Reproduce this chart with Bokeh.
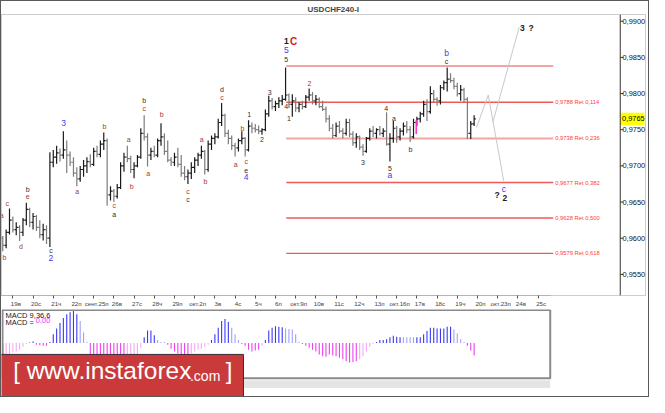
import numpy as np
from bokeh.plotting import figure
from bokeh.layouts import column
from bokeh.models import (ColumnDataSource, Range1d, FixedTicker, CustomJSTickFormatter, Span)
from bokeh.core.properties import value
from bokeh.embed import file_html
from bokeh.resources import INLINE

# USDCHF H4 bars (19 Sep - 19 Oct)
opens = [.9600, .9590, .9608, .9625, .9612, .9615, .9608, .9625, .9640, .9622,
         .9630, .9615, .9605, .9612, .9600, .9705, .9712, .9718, .9715, .9722,
         .9715, .9705, .9690, .9682, .9695, .9700, .9706, .9702, .9720, .9716,
         .9730, .9735, .9660, .9665, .9658, .9670, .9700, .9712, .9710, .9695,
         .9700, .9712, .9745, .9740, .9715, .9720, .9715, .9735, .9740, .9720,
         .9708, .9705, .9712, .9702, .9690, .9685, .9690, .9698, .9708, .9715,
         .9720, .9695, .9730, .9738, .9740, .9760, .9770, .9745, .9738, .9728,
         .9725, .9735, .9738, .9722, .9755, .9752, .9750, .9748, .9750, .9772,
         .9790, .9782, .9786, .9790, .9792, .9798, .9785, .9790, .9780, .9785,
         .9782, .9795, .9798, .9790, .9792, .9782, .9778, .9765, .9752, .9742,
         .9755, .9748, .9745, .9760, .9744, .9732, .9740, .9726, .9720, .9738,
         .9748, .9745, .9750, .9745, .9748, .9730, .9738, .9752, .9740, .9748,
         .9755, .9750, .9740, .9760, .9765, .9772, .9785, .9775, .9800, .9792,
         .9790, .9808, .9815, .9820, .9818, .9810, .9800, .9805, .9792, .9745,
         .9758]
highs = [.9603, .9612, .9641, .9630, .9622, .9618, .9628, .9649, .9642, .9635,
         .9632, .9625, .9620, .9618, .9719, .9722, .9728, .9724, .9748, .9735,
         .9720, .9712, .9698, .9700, .9708, .9712, .9716, .9725, .9728, .9735,
         .9746, .9738, .9672, .9668, .9675, .9705, .9718, .9728, .9714, .9705,
         .9715, .9752, .9770, .9745, .9725, .9728, .9738, .9759, .9745, .9735,
         .9712, .9718, .9725, .9715, .9700, .9695, .9705, .9712, .9718, .9728,
         .9722, .9735, .9742, .9745, .9765, .9787, .9772, .9750, .9742, .9732,
         .9738, .9748, .9740, .9763, .9760, .9758, .9756, .9752, .9778, .9797,
         .9794, .9790, .9795, .9798, .9836, .9800, .9799, .9795, .9788, .9790,
         .9798, .9807, .9802, .9798, .9795, .9790, .9782, .9770, .9758, .9760,
         .9762, .9752, .9765, .9765, .9748, .9745, .9742, .9730, .9740, .9752,
         .9755, .9752, .9755, .9752, .9774, .9745, .9762, .9755, .9752, .9760,
         .9762, .9755, .9765, .9768, .9775, .9790, .9792, .9810, .9805, .9795,
         .9812, .9818, .9836, .9828, .9822, .9815, .9812, .9808, .9795, .9762,
         .9770]
lows = [.9582, .9586, .9605, .9608, .9604, .9596, .9603, .9618, .9615, .9612,
        .9610, .9600, .9597, .9592, .9588, .9698, .9703, .9706, .9710, .9690,
        .9700, .9685, .9672, .9678, .9685, .9690, .9698, .9700, .9712, .9712,
        .9722, .9645, .9652, .9650, .9655, .9668, .9692, .9705, .9690, .9683,
        .9698, .9710, .9735, .9699, .9708, .9712, .9712, .9728, .9715, .9705,
        .9700, .9700, .9698, .9685, .9680, .9675, .9682, .9690, .9700, .9710,
        .9688, .9692, .9722, .9730, .9738, .9755, .9740, .9730, .9722, .9713,
        .9720, .9730, .9713, .9720, .9745, .9746, .9744, .9743, .9748, .9768,
        .9778, .9776, .9780, .9784, .9790, .9780, .9768, .9775, .9774, .9778,
        .9780, .9790, .9785, .9784, .9780, .9776, .9760, .9748, .9738, .9740,
        .9745, .9738, .9742, .9740, .9728, .9725, .9722, .9714, .9718, .9735,
        .9740, .9738, .9742, .9740, .9728, .9706, .9732, .9732, .9735, .9742,
        .9745, .9733, .9738, .9755, .9760, .9768, .9762, .9772, .9788, .9783,
        .9785, .9805, .9803, .9815, .9806, .9796, .9790, .9788, .9737, .9737,
        .9755]
closes = [.9590, .9608, .9625, .9612, .9615, .9608, .9625, .9640, .9622, .9630,
          .9615, .9605, .9612, .9600, .9705, .9712, .9718, .9715, .9722, .9715,
          .9705, .9690, .9682, .9695, .9700, .9706, .9702, .9720, .9716, .9730,
          .9735, .9660, .9665, .9658, .9670, .9700, .9712, .9710, .9695, .9700,
          .9712, .9745, .9740, .9715, .9720, .9715, .9735, .9740, .9720, .9708,
          .9705, .9712, .9702, .9690, .9685, .9690, .9698, .9708, .9715, .9720,
          .9695, .9730, .9738, .9740, .9760, .9770, .9745, .9738, .9728, .9725,
          .9735, .9738, .9722, .9755, .9752, .9750, .9748, .9750, .9772, .9790,
          .9782, .9786, .9790, .9792, .9798, .9785, .9790, .9780, .9785, .9782,
          .9795, .9798, .9790, .9792, .9782, .9778, .9765, .9752, .9742, .9755,
          .9748, .9745, .9760, .9744, .9732, .9740, .9726, .9720, .9738, .9748,
          .9745, .9750, .9745, .9748, .9730, .9738, .9752, .9740, .9748, .9755,
          .9750, .9740, .9760, .9765, .9772, .9785, .9775, .9800, .9792, .9790,
          .9808, .9815, .9820, .9818, .9810, .9800, .9805, .9792, .9745, .9758,
          .9765]

# MACD(9,36,6) histogram, in pips
macd_pips = [-14, -13, -12, -10, -9, -7, -4, -1, 0.5, 1.5,
             -2, -2.5, -3, -3, 1, 9, 15, 21, 26, 30,
             32, 34, 30, 23, 11, 1, -12, -14, -15, -16,
             -16, -18, -22, -26, -28, -27, -25, -22, -20, -16,
             -12, -5, 6, 13, 13, 8, 3, 1, 1, -2,
             -6, -9, -11, -12, -12, -12, -11, -9, -7, -6,
             -4, -2, 3, 9, 16, 23, 25, 22, 16, 9,
             3, -1, -3, -7, -9, -8, -7, -3, 3, 13,
             16, 17.5, 17, 16.5, 15, 14.5, 14, 9, 1, -1,
             -3, -5, -7, -9, -12, -14, -14.5, -12, -13, -14,
             -15.5, -17, -19, -20.5, -20, -19, -17, -14, -9, -4,
             -1, 1, 3, 3, 4, 6, 7.5, 6.6, 6, 6,
             6, 6, 6, 6, 6, 9, 12.5, 16, 16, 15,
             15, 15, 17, 17, 14, 10, 4, 1, -3, -8,
             -13]

day_labels = ["19в", "20с", "21ч", "22п", "сент.25п", "26в", "27с", "28ч", "29п",
              "окт.2п", "3в", "4с", "5ч", "6п", "окт.9п", "10в", "11с", "12ч", "13п",
              "окт.16п", "17в", "18с", "19ч", "20п", "окт.23п", "24в", "25с"]

price_ticks = [0.955, 0.96, 0.965, 0.97, 0.975, 0.98, 0.985, 0.99]

# retracement levels of the last leg
fib_levels = [0.9838, 0.9788, 0.9738, 0.9677, 0.9628, 0.9579, 0.9518]
fib_ratios = ["", "0,114", "0,236", "0,382", "0,500", "0,618", "0,764"]

# forecast paths (bar index, price)
path_down_k = [140.7, 144.2, 148.8]
path_down_p = [0.9753, 0.9798, 0.9679]
path_up_k = [145.6, 153.4]
path_up_p = [0.9761, 0.9892]

# wave marks: bar index, price, text, kind (m maroon, k black, u blue, K bold, R red)
wave_k = [0.49, 1.36, -0.3, 5.4, 7.4, 7.4, 14.3, 14.3, 18.1, 22.1,
          30.2, 33.1, 33.1, 37.4, 38.3, 42.0, 42.0, 43.2, 47.2, 55.0,
          55.0, 59.1, 60.2, 65.1, 65.1, 69.2, 71.2, 72.3, 72.3, 72.3,
          73.2, 77.0, 79.3, 84.2, 86.4, 84.2, 84.2, 84.2, 85.0, 91.1,
          107.0, 113.9, 115.0, 115.0, 116.2, 121.1, 131.8, 131.8, 148.8, 146.8,
          149.1, 154.3, 156.9]
wave_p = [.9574, .9648, .9631, .9588, .9668, .9657, .9583, .9572, .9759, .9664,
          .9755, .9645, .9633, .9736, .9672, .9791, .9779, .9690, .9771, .9665,
          .9653, .9736, .9679, .9805, .9794, .9702, .9751, .9706, .9694, .9684,
          .9771, .9736, .9802, .9872, .9872, .9860, .9847, .9782, .9765, .9814,
          .9704, .9779, .9697, .9687, .9766, .9722, .9856, .9844, .9668, .9660,
          .9656, .9891, .9891]
wave_text = ["b", "c", "a", "d", "b", "e", "c", "2", "3", "a",
             "b", "c", "a", "a", "b", "b", "c", "a", "b", "c",
             "c", "a", "b", "d", "c", "a", "b", "c", "e", "4",
             "1", "2", "3", "1", "C", "5", "5", "4", "1", "2",
             "3", "4", "5", "a", "a", "b", "b", "c", "c", "?",
             "2", "3", "?"]
wave_kind = ["m", "m", "m", "m", "k", "m", "k", "u", "u", "m",
             "m", "m", "k", "m", "m", "k", "m", "m", "m", "m",
             "k", "m", "m", "k", "m", "m", "m", "m", "k", "u",
             "k", "k", "k", "K", "R", "u", "k", "k", "k", "m",
             "k", "k", "k", "u", "k", "k", "u", "k", "u", "K",
             "K", "K", "K"]

FONT = "Liberation Sans"
W = 647
x_start, x_end = -0.375, 190.9      # frame spans the whole width
k_axis = 183.4                      # where the price scale starts
panel_end = 162.6                   # end of date strip / MACD box
price_lo, price_hi = 0.95208, 0.99093

k = np.arange(len(closes))
o = np.array(opens); h = np.array(highs); l = np.array(lows); c = np.array(closes)

# ---- price chart ----
p = figure(width=W, height=308, x_range=Range1d(x_start, x_end),
           y_range=Range1d(price_lo, price_hi), y_axis_location="right",
           toolbar_location=None, output_backend="svg",
           min_border_left=0, min_border_right=0, min_border_top=13, min_border_bottom=0)
p.grid.visible = False
p.outline_line_color = "#9a9a9a"
p.outline_line_dash = "1 1"
p.title.text = "USDCHF240-I"
p.title.align = "left"
p.title.text_font = FONT
p.title.text_font_size = "8px"
p.title.text_font_style = "bold"
p.title.standoff = 1
p.title.offset = 306

# price scale: labels pulled back inside the frame, to the right of the scale line
ya = p.yaxis[0]
ya.ticker = FixedTicker(ticks=price_ticks)
ya.formatter = CustomJSTickFormatter(code="return tick.toFixed(4).replace('.', ',');")
ya.major_tick_out = 0
ya.major_tick_in = 0
ya.minor_tick_line_color = None
ya.major_tick_line_color = None
ya.axis_line_color = None
ya.major_label_standoff = -23
ya.major_label_text_font = FONT
ya.major_label_text_font_size = "7.4px"
ya.major_label_text_color = "#111111"
p.add_layout(Span(location=k_axis, dimension="height", line_color="#333333", line_width=1))
p.segment(x0=k_axis, y0=price_ticks, x1=k_axis + 0.9, y1=price_ticks, line_color="#333333")

xa = p.xaxis[0]
xa.ticker = FixedTicker(ticks=[3.9 + 6 * i for i in range(len(day_labels))],
                        minor_ticks=[3 + 6 * i for i in range(len(day_labels))])
xa.formatter = CustomJSTickFormatter(args=dict(labels=day_labels),
                                     code="const i = Math.round((tick - 3.9) / 6); return labels[i] || '';")
xa.major_label_text_align = "left"
xa.major_tick_out = 0
xa.major_tick_in = 0
xa.minor_tick_out = 3
xa.minor_tick_in = 0
xa.minor_tick_line_color = "#555555"
xa.axis_line_color = "#9a9a9a"
xa.axis_line_dash = "1 1"
xa.major_label_standoff = 1
xa.major_label_text_font = FONT
xa.major_label_text_font_size = "6.2px"
xa.bounds = (x_start, panel_end)

# fibonacci lines
fib_src = ColumnDataSource(dict(
    y=fib_levels,
    color=["#f4a4a4", "#ee5a5a", "#f4a4a4", "#ee5a5a", "#ee5a5a", "#ee5a5a", "#ee5a5a"],
    width=[2, 1.4, 2, 1.4, 1.4, 1.4, 1.4],
    label=[("%.4f Ret %s" % (v, r)).replace(".", ",") if r else "" for v, r in zip(fib_levels, fib_ratios)],
))
p.segment(x0=84.2, y0="y", x1=163.5, y1="y", line_color="color", line_width="width", source=fib_src)
p.text(x=164.1, y="y", text="label", text_color="#ff3a3a", text_font=value(FONT),
       text_font_size="5.8px", text_baseline="middle", source=fib_src)

# forecast paths
p.line(path_down_k, path_down_p, line_color="#c8c8c8", line_width=1)
p.line(path_up_k, path_up_p, line_color="#c8c8c8", line_width=1)

# bars
bar_src = ColumnDataSource(dict(x=k, xl=k - 0.5, xr=k + 0.5, o=o, h=h, l=l, c=c,
                                color=np.where(c >= o, "#1a1a1a", "#7c7c7c")))
p.segment("x", "l", "x", "h", line_color="color", line_width=1.2, source=bar_src)
p.segment("xl", "o", "x", "o", line_color="color", line_width=1.2, source=bar_src)
p.segment("x", "c", "xr", "c", line_color="color", line_width=1.2, source=bar_src)
p.segment(x0=[122.8], y0=[0.9744], x1=[122.8], y1=[0.9763], line_color="#ff30d0", line_width=1.5)

# wave marks
kind_color = {"m": "#a23a32", "k": "#303030", "u": "#3c3cf0", "K": "#202020", "R": "#d42020"}
kind_size = {"m": "7px", "k": "7px", "u": "8.5px", "K": "8.5px", "R": "10px"}
kind_style = {"m": "normal", "k": "normal", "u": "normal", "K": "bold", "R": "bold"}
wave_src = ColumnDataSource(dict(
    x=wave_k, y=wave_p, text=wave_text,
    color=[kind_color[t] for t in wave_kind],
    size=[kind_size[t] for t in wave_kind],
    style=[kind_style[t] for t in wave_kind],
))
p.text(x="x", y="y", text="text", text_color="color", text_font_size="size",
       text_font_style="style", text_font=value(FONT), text_align="center",
       text_baseline="middle", source=wave_src)

# current price box on the scale
last_txt = ("%.4f" % closes[-1]).replace(".", ",")
p.rect(x=(k_axis + x_end) / 2 - 0.2, y=closes[-1], width=x_end - k_axis - 0.2, height=0.0017,
       fill_color="#ffff00", line_color=None)
p.text(x=k_axis + 0.55, y=closes[-1], text=[last_txt], text_font=value(FONT),
       text_font_size="7.4px", text_baseline="middle", text_color="black")

# ---- MACD panel ----
m = figure(width=W, height=87, x_range=p.x_range, y_range=Range1d(-56, 35),
           toolbar_location=None, output_backend="svg",
           x_axis_location=None, y_axis_location=None,
           min_border_left=0, min_border_right=0, min_border_top=0, min_border_bottom=0)
m.grid.visible = False
m.outline_line_color = None

mp = np.array(macd_pips, dtype=float)
sig = np.array([mp[max(0, i - 5):i + 1].mean() for i in range(len(mp))])
mcol = np.where(mp >= 0, np.where(mp >= sig, "#3a3af5", "#a0a0f8"),
                np.where(mp <= sig, "#f040f0", "#f8a8f8"))
m.segment(x0=k, y0=0, x1=k, y1=mp, line_color=mcol, line_width=1.1)

m.quad(left=x_start + 0.3, right=panel_end, top=34.4, bottom=-37, fill_color=None,
       line_color="#8a8a8a", line_width=2)
m.quad(left=x_start, right=panel_end, top=-39, bottom=-47, fill_color="#e4e4e4", line_color=None)

m.text(x=0.8, y=33.5, text=["MACD 9,36,6"], text_font=value(FONT), text_font_size="7.5px",
       text_baseline="top", text_color="#202020")
m.text(x=0.8, y=26, text=["MACD ="], text_font=value(FONT), text_font_size="7.5px",
       text_baseline="top", text_color="#202020")
m.text(x=9.8, y=26, text=["0,00"], text_font=value(FONT), text_font_size="7.5px",
       text_baseline="top", text_color="#ff30ff")

# banner
m.quad(left=x_start - 1, right=71.5, top=-12, bottom=-57, fill_color="#cb3a3a",
       line_color="#3a2a3a", line_width=1)
m.text(x=3.1, y=-43, text=["["], text_font=value(FONT), text_font_size="24px", text_color="white")
m.text(x=7.1, y=-43, text=["www.instaforex"], text_font=value(FONT), text_font_size="24.5px",
       text_color="white")
m.text(x=55.6, y=-43, text=[".com"], text_font=value(FONT), text_font_size="14px", text_color="white")
m.text(x=66.2, y=-43, text=["]"], text_font=value(FONT), text_font_size="24px", text_color="white")

layout = column(p, m, styles={"border": "1px solid #5a5a5a"})
open("out.html", "w", encoding="utf-8").write(file_html(layout, INLINE))
